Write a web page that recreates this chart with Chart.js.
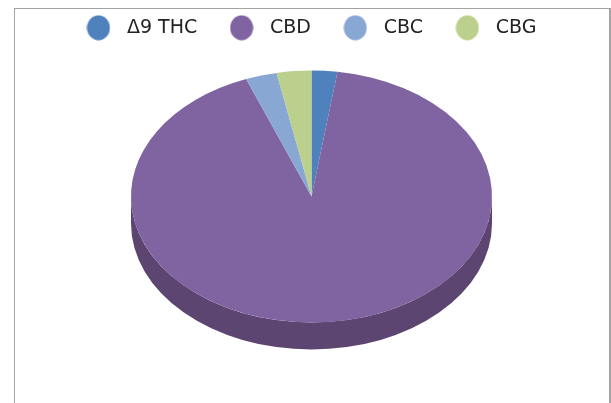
<!DOCTYPE html>
<html>
<head>
<meta charset="utf-8">
<title>Cannabinoids</title>
<script src="https://cdn.jsdelivr.net/npm/chart.js@4/dist/chart.umd.min.js"></script>
<style>
  html, body { margin: 0; background: #fff; overflow: hidden; }
  #frame { position: absolute; left: 14px; top: 8px; width: 594px; height: 400px;
           border: 1px solid #a3a3a3; border-right-width: 2px; }
  #pie { position: absolute; left: 0; top: -7px; }
</style>
</head>
<body>
<div id="frame"></div>
<canvas id="pie" width="611" height="410"></canvas>
<script>
/* ── Data ─────────────────────────────────────────────── */
const categories = ['\u03949 THC', 'CBD', 'CBC', 'CBG'];
const shares     = [2.3, 91.8, 2.8, 3.1];
const colors     = ['#4f81bd', '#8064a2', '#88a8d3', '#bbd08c'];
const sideColors = ['#3a5f8c', '#5c4570', '#64799b', '#8a9a66'];

/* ── Tilt of the pie ──────────────────────────────────── */
const centerX = 311.5;
const centerY = 203.5;    // canvas sits 7px above the page
const radius  = 180.5;
const radiusY = 126;
const depth   = 27;

// legend marker: slightly taller than wide, like the original
function marker(color) {
  const c = document.createElement('canvas');
  c.width = 24;
  c.height = 26;
  const g = c.getContext('2d');
  g.fillStyle = color;
  g.beginPath();
  g.ellipse(12, 13, 11.5, 12.5, 0, 0, Math.PI * 2);
  g.fill();
  return c;
}

const tiltPlugin = {
  id: 'tilt',
  beforeDatasetDraw(chart, args) {
    const ctx = chart.ctx;
    const arcs = args.meta.data;

    // side wall, only the part facing the viewer
    arcs.forEach((arc, i) => {
      const two = Math.PI * 2;
      for (const shift of [0, two]) {
        const a0 = Math.max(arc.startAngle + shift, 0);
        const a1 = Math.min(arc.endAngle + shift, Math.PI);
        if (a1 <= a0) continue;
        ctx.fillStyle = sideColors[i];
        ctx.beginPath();
        ctx.ellipse(centerX, centerY, radius, radiusY, 0, a0, a1);
        ctx.ellipse(centerX, centerY + depth, radius, radiusY, 0, a1, a0, true);
        ctx.closePath();
        ctx.fill();
      }
    });

    // squash the circle chart.js draws into an ellipse
    ctx.save();
    ctx.translate(centerX - arcs[0].x, centerY);
    ctx.scale(1, radiusY / radius);
    ctx.translate(0, -arcs[0].y);
  },
  afterDatasetDraw(chart) {
    chart.ctx.restore();
  }
};

new Chart(document.getElementById('pie'), {
  type: 'pie',
  data: {
    labels: categories,
    datasets: [{
      data: shares,
      backgroundColor: colors,
      borderWidth: 0,
      radius: radius,
      clip: false
    }]
  },
  options: {
    responsive: false,
    animation: false,
    layout: { padding: { left: 5 } },
    plugins: {
      tooltip: { enabled: false },
      legend: {
        position: 'top',
        labels: {
          usePointStyle: true,
          pointStyleWidth: 38,
          padding: 25.3,
          color: '#222',
          font: { family: 'DejaVu Sans', size: 19 },
          generateLabels(chart) {
            const items = Chart.overrides.pie.plugins.legend.labels.generateLabels(chart);
            items.forEach((item, i) => { item.pointStyle = marker(colors[i]); });
            return items;
          }
        }
      }
    }
  },
  plugins: [tiltPlugin]
});
</script>
</body>
</html>
